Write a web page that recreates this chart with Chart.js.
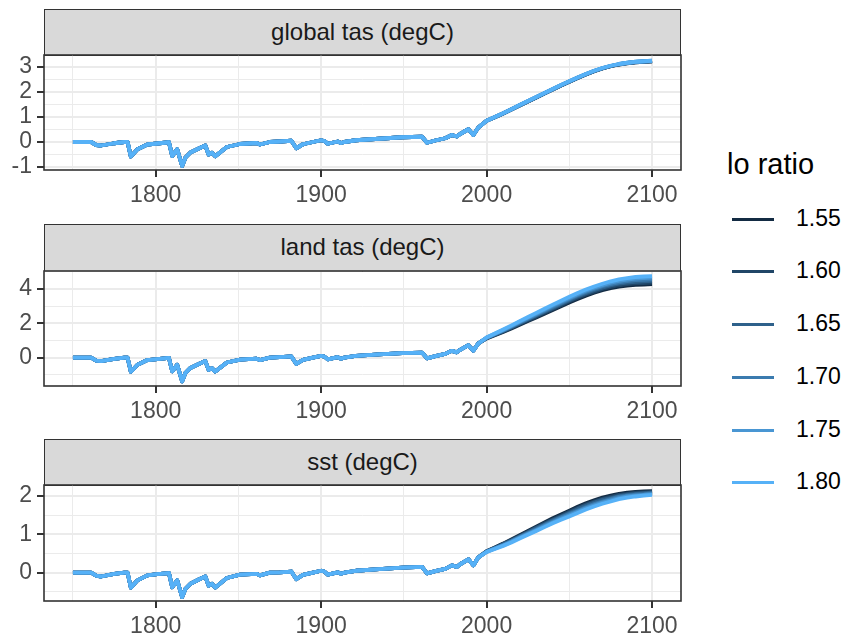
<!DOCTYPE html>
<html><head><meta charset="utf-8">
<script src="https://cdn.jsdelivr.net/npm/chart.js@4"></script>
<style>
html,body{margin:0;padding:0;background:#fff}
body{width:844px;height:639px;overflow:hidden;position:relative;font-family:"Liberation Sans",Arial,Helvetica,sans-serif}
.strip{position:absolute;box-sizing:border-box;background:#D9D9D9;border:1.3px solid #333333;color:#1A1A1A;font-size:24px;display:flex;align-items:center;justify-content:center;padding-bottom:2px}
canvas{position:absolute;z-index:2}
.lg{position:absolute;color:#000}
.key{position:absolute;height:3px}
</style></head><body>
<script>
// ---------------- data ----------------
const ratios = ['1.55','1.60','1.65','1.70','1.75','1.80'];
const colors = ['#132B43','#204667','#2E618B','#3B7BAF','#4996D3','#56B1F7'];
const panelTitles = ['global tas (degC)','land tas (degC)','sst (degC)'];

const histYears = [1750,1761,1764,1767,1775,1781,1783,1785,1789,1795,1801,1808,1810,1813,1816,1818,1821,1826,1830,1832,1834,1836,1843,1851,1861,1863,1869,1875,1882,1885,1889,1895,1900,1902,1904,1910,1912,1914,1921,1935,1949,1961,1964,1969,1975,1979,1982,1984,1989,1992,1995];
const futureYears = [2000,2005,2010,2015,2020,2025,2030,2035,2040,2045,2050,2055,2060,2065,2070,2075,2080,2085,2090,2095,2100];

const globalHist = [0.00,0.00,-0.12,-0.14,-0.05,0.00,0.00,-0.58,-0.29,-0.10,-0.06,-0.01,-0.56,-0.29,-0.96,-0.62,-0.42,-0.26,-0.14,-0.50,-0.43,-0.57,-0.20,-0.08,-0.04,-0.10,0.00,0.02,0.05,-0.25,-0.09,0.00,0.07,0.04,-0.07,0.02,-0.04,0.00,0.07,0.13,0.19,0.21,-0.03,0.06,0.15,0.28,0.22,0.32,0.51,0.28,0.58];
const landHist = [0.00,0.00,-0.17,-0.20,-0.07,0.00,0.00,-0.82,-0.41,-0.14,-0.08,-0.01,-0.80,-0.41,-1.38,-0.88,-0.60,-0.37,-0.20,-0.71,-0.61,-0.81,-0.28,-0.11,-0.06,-0.14,0.00,0.03,0.07,-0.36,-0.13,0.00,0.10,0.06,-0.10,0.03,-0.06,0.00,0.10,0.19,0.27,0.30,-0.04,0.09,0.22,0.40,0.31,0.46,0.73,0.41,0.83];
const sstHist = [0.00,0.00,-0.08,-0.10,-0.03,0.00,0.00,-0.39,-0.20,-0.07,-0.04,-0.01,-0.38,-0.20,-0.64,-0.42,-0.29,-0.18,-0.10,-0.34,-0.29,-0.39,-0.14,-0.05,-0.03,-0.07,0.00,0.01,0.03,-0.17,-0.06,0.00,0.05,0.03,-0.05,0.01,-0.03,0.00,0.05,0.09,0.13,0.15,-0.02,0.04,0.10,0.19,0.15,0.22,0.35,0.19,0.40];

const globalFut155 = [0.85,0.99,1.14,1.30,1.46,1.62,1.78,1.94,2.10,2.26,2.41,2.56,2.70,2.83,2.94,3.03,3.10,3.15,3.19,3.21,3.23];
const globalFut160 = [0.85,0.99,1.14,1.30,1.46,1.62,1.78,1.95,2.10,2.26,2.41,2.56,2.70,2.83,2.94,3.03,3.10,3.16,3.19,3.21,3.23];
const globalFut165 = [0.85,0.99,1.14,1.30,1.47,1.63,1.79,1.95,2.11,2.27,2.42,2.57,2.71,2.84,2.95,3.04,3.11,3.16,3.20,3.22,3.24];
const globalFut170 = [0.85,1.00,1.15,1.31,1.47,1.63,1.79,1.95,2.11,2.27,2.42,2.57,2.71,2.84,2.95,3.04,3.11,3.16,3.20,3.22,3.24];
const globalFut175 = [0.85,1.00,1.15,1.31,1.48,1.64,1.80,1.96,2.12,2.28,2.43,2.58,2.72,2.85,2.96,3.05,3.12,3.17,3.21,3.23,3.25];
const globalFut180 = [0.85,1.00,1.15,1.31,1.48,1.64,1.80,1.96,2.12,2.28,2.43,2.58,2.72,2.85,2.96,3.05,3.12,3.17,3.21,3.23,3.25];

const landFut155 = [1.12,1.31,1.50,1.70,1.92,2.13,2.34,2.56,2.78,3.00,3.22,3.42,3.61,3.78,3.93,4.05,4.14,4.20,4.24,4.26,4.28];
const landFut160 = [1.13,1.33,1.53,1.74,1.96,2.18,2.39,2.62,2.84,3.06,3.29,3.49,3.68,3.85,4.01,4.13,4.22,4.29,4.33,4.35,4.37];
const landFut165 = [1.14,1.35,1.56,1.77,2.00,2.23,2.45,2.68,2.90,3.13,3.35,3.56,3.75,3.93,4.08,4.21,4.31,4.38,4.42,4.45,4.47];
const landFut170 = [1.16,1.37,1.58,1.81,2.05,2.27,2.50,2.73,2.97,3.19,3.42,3.63,3.83,4.00,4.16,4.29,4.39,4.46,4.52,4.54,4.56];
const landFut175 = [1.17,1.39,1.61,1.84,2.09,2.32,2.56,2.79,3.03,3.26,3.48,3.70,3.90,4.08,4.23,4.37,4.48,4.55,4.61,4.64,4.66];
const landFut180 = [1.18,1.41,1.64,1.88,2.13,2.37,2.61,2.85,3.09,3.32,3.55,3.77,3.97,4.15,4.31,4.45,4.56,4.64,4.70,4.73,4.75];

const sstFut155 = [0.56,0.66,0.76,0.87,0.98,1.09,1.20,1.31,1.42,1.52,1.62,1.72,1.81,1.89,1.96,2.01,2.06,2.09,2.11,2.12,2.13];
const sstFut160 = [0.56,0.65,0.75,0.85,0.96,1.07,1.18,1.29,1.39,1.49,1.59,1.69,1.78,1.86,1.93,1.98,2.03,2.06,2.09,2.10,2.11];
const sstFut165 = [0.55,0.64,0.74,0.84,0.94,1.05,1.16,1.26,1.37,1.46,1.56,1.66,1.75,1.83,1.90,1.95,2.00,2.04,2.06,2.08,2.09];
const sstFut170 = [0.55,0.64,0.72,0.82,0.93,1.03,1.13,1.24,1.34,1.44,1.53,1.62,1.71,1.79,1.86,1.92,1.98,2.01,2.04,2.05,2.07];
const sstFut175 = [0.54,0.63,0.71,0.81,0.91,1.01,1.11,1.21,1.31,1.41,1.50,1.59,1.68,1.76,1.83,1.89,1.95,1.99,2.01,2.03,2.05];
const sstFut180 = [0.54,0.62,0.70,0.79,0.89,0.99,1.09,1.19,1.29,1.38,1.47,1.56,1.65,1.73,1.80,1.86,1.92,1.96,1.99,2.01,2.03];

const xMajorTicks = [1800,1900,2000,2100];
const xMinorTicks = [1750,1850,1950,2050];
const yMajorTicks = [[-1,0,1,2,3],[0,2,4],[0,1,2]];
const yMinorTicks = [[-0.5,0.5,1.5,2.5],[-1,1,3,5],[-0.5,0.5,1.5]];

// ---------------- layout ----------------
const X_MIN = 1732.5, X_MAX = 2117.5;
const Y_RANGE = [[-1.12,3.48],[-1.65,5.05],[-0.74,2.29]];
const PL = 44, PR = 681, CW = 700;
const PANELS = [{stripTop:9, top:55, bottom:170},{stripTop:224, top:271, bottom:386},{stripTop:439, top:485, bottom:601}];
const FONT = '"Liberation Sans", Arial, sans-serif';

const borderPlugin = {
  id:'panelBorder',
  afterDraw(chart){
    const {ctx, chartArea:a} = chart;
    ctx.save();
    ctx.strokeStyle = '#333333';
    ctx.lineWidth = 1.6;
    ctx.strokeRect(a.left, a.top, a.right - a.left, a.bottom - a.top);
    ctx.restore();
  }
};

function makePanel(i, hist, futs){
  const p = PANELS[i];
  const s = document.createElement('div');
  s.className = 'strip';
  s.style.left = PL + 'px'; s.style.top = p.stripTop + 'px';
  s.style.width = (PR - PL) + 'px'; s.style.height = (p.top - p.stripTop + 1) + 'px';
  s.textContent = panelTitles[i];
  document.body.appendChild(s);

  const padTop = 30, axisH = 50;
  const H = padTop + (p.bottom - p.top) + axisH;
  const c = document.createElement('canvas');
  c.width = CW; c.height = H;
  c.style.left = '0px'; c.style.top = (p.top - padTop) + 'px';
  c.style.width = CW + 'px'; c.style.height = H + 'px';
  document.body.appendChild(c);

  const years = histYears.concat(futureYears);
  const datasets = ratios.map((r, k) => {
    const vals = hist.concat(futs[k]);
    return {
      label: r,
      data: years.map((x, j) => ({x: x, y: vals[j]})),
      borderColor: colors[k], backgroundColor: colors[k],
      borderWidth: 3.8, pointRadius: 0, tension: 0, fill: false,
      borderJoinStyle: 'round', borderCapStyle: 'butt'
    };
  }).reverse();

  const yMaj = yMajorTicks[i], yMin = yMinorTicks[i];
  const yAll = yMaj.concat(yMin).sort((a,b)=>a-b);
  const xAll = xMajorTicks.concat(xMinorTicks).sort((a,b)=>a-b);

  new Chart(c, {
    type: 'line',
    data: {datasets},
    options: {
      responsive: false, animation: false, devicePixelRatio: 1,
      layout: {padding: {top: padTop, right: CW - PR, left: 0, bottom: 0}},
      plugins: {legend: {display: false}, tooltip: {enabled: false}},
      scales: {
        x: {
          type: 'linear', min: X_MIN, max: X_MAX,
          afterBuildTicks: sc => { sc.ticks = xAll.map(v => ({value: v})); },
          afterFit: sc => { sc.height = axisH; },
          border: {display: false},
          grid: {
            color: '#EBEBEB',
            lineWidth: ctx => xMajorTicks.includes(ctx.tick && ctx.tick.value) ? 2 : 1,
            tickColor: ctx => xMajorTicks.includes(ctx.tick && ctx.tick.value) ? '#333333' : 'rgba(0,0,0,0)',
            tickLength: 7, drawTicks: true
          },
          ticks: {
            autoSkip: false, maxRotation: 0, padding: 5, color: '#4D4D4D',
            font: {family: FONT, size: 23},
            callback: v => xMajorTicks.includes(v) ? String(v) : ''
          }
        },
        y: {
          type: 'linear', min: Y_RANGE[i][0], max: Y_RANGE[i][1],
          afterBuildTicks: sc => { sc.ticks = yAll.map(v => ({value: v})); },
          afterFit: sc => { sc.width = PL; },
          border: {display: false},
          grid: {
            color: '#EBEBEB',
            lineWidth: ctx => yMaj.includes(ctx.tick && ctx.tick.value) ? 2 : 1,
            tickColor: ctx => yMaj.includes(ctx.tick && ctx.tick.value) ? '#333333' : 'rgba(0,0,0,0)',
            tickLength: 7, drawTicks: true
          },
          ticks: {
            autoSkip: false, padding: 5, color: '#4D4D4D',
            font: {family: FONT, size: 23},
            callback: v => yMaj.includes(v) ? String(v) : ''
          }
        }
      }
    },
    plugins: [borderPlugin]
  });
}

makePanel(0, globalHist, [globalFut155, globalFut160, globalFut165, globalFut170, globalFut175, globalFut180]);
makePanel(1, landHist, [landFut155, landFut160, landFut165, landFut170, landFut175, landFut180]);
makePanel(2, sstHist, [sstFut155, sstFut160, sstFut165, sstFut170, sstFut175, sstFut180]);

// ---------------- legend ----------------
const title = document.createElement('div');
title.className = 'lg';
title.style.left = '727px'; title.style.top = '148px'; title.style.fontSize = '29px';
title.textContent = 'lo ratio';
document.body.appendChild(title);
const keyY = [219, 271, 324, 377, 430, 482];
ratios.forEach((r, k) => {
  const ln = document.createElement('div');
  ln.className = 'key';
  ln.style.left = '732px'; ln.style.width = '42px';
  ln.style.top = (keyY[k] - 1) + 'px';
  ln.style.background = colors[k];
  document.body.appendChild(ln);
  const t = document.createElement('div');
  t.className = 'lg';
  t.style.left = '796px'; t.style.top = (keyY[k] - 14) + 'px'; t.style.fontSize = '23px';
  t.textContent = r;
  document.body.appendChild(t);
});
</script>
</body></html>
